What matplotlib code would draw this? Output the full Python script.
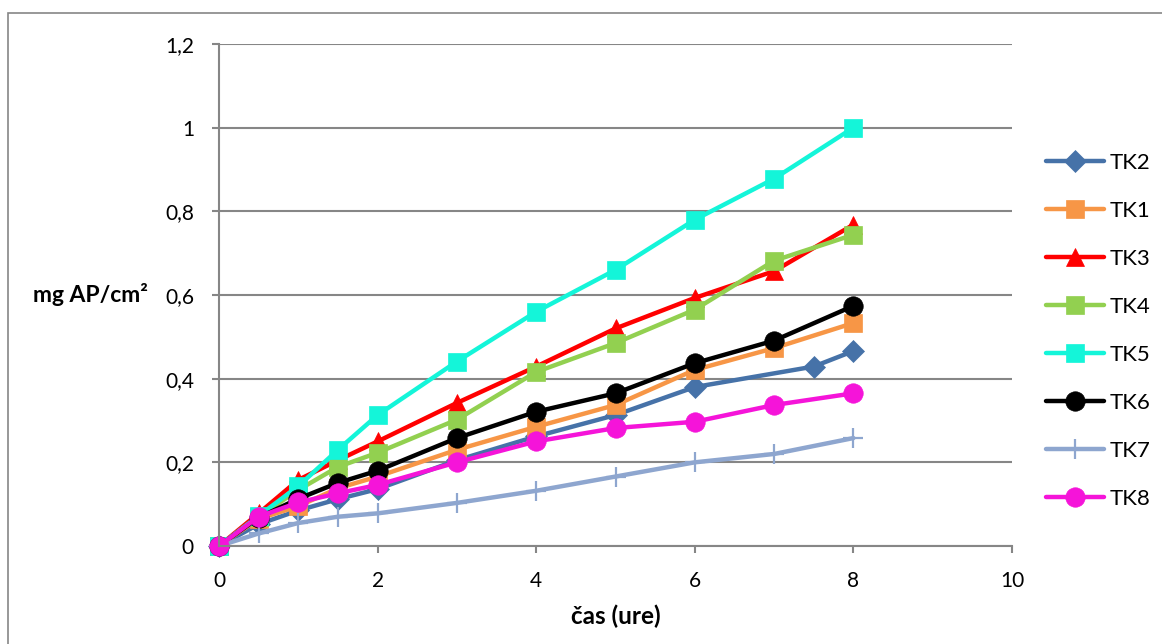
import numpy as np
import matplotlib.pyplot as plt
from matplotlib.patches import Rectangle

plt.rcParams['font.family'] = ['Lato', 'DejaVu Sans']

# podatki odčitani z grafa
t_full = [0, 0.5, 1, 1.5, 2, 3, 4, 5, 6, 7, 8]
t_tk2 = [0, 0.5, 1, 1.5, 2, 3, 4, 5, 6, 7.5, 8]

tk2 = [0, 0.052, 0.085, 0.112, 0.136, 0.205, 0.262, 0.313, 0.38, 0.429, 0.466]
tk1 = [0, 0.065, 0.095, 0.138, 0.166, 0.23, 0.285, 0.337, 0.421, 0.473, 0.533]
tk3 = [0, 0.078, 0.158, 0.205, 0.25, 0.342, 0.429, 0.52, 0.593, 0.657, 0.768]
tk4 = [0, 0.07, 0.134, 0.189, 0.223, 0.302, 0.416, 0.485, 0.565, 0.682, 0.744]
tk5 = [0, 0.072, 0.143, 0.23, 0.313, 0.441, 0.56, 0.66, 0.78, 0.878, 1.0]
tk6 = [0, 0.068, 0.113, 0.151, 0.18, 0.258, 0.321, 0.365, 0.437, 0.491, 0.574]
tk7 = [0, 0.03, 0.055, 0.07, 0.078, 0.103, 0.132, 0.166, 0.2, 0.22, 0.258]
tk8 = [0, 0.07, 0.104, 0.126, 0.146, 0.2, 0.25, 0.282, 0.297, 0.337, 0.365]

y_ticks = [0, 0.2, 0.4, 0.6, 0.8, 1.0, 1.2]
y_labels = ['0', '0,2', '0,4', '0,6', '0,8', '1', '1,2']
x_ticks = [0, 2, 4, 6, 8, 10]

series = [
    ('TK2', t_tk2, tk2, '#4672A8', 'D', 11),
    ('TK1', t_full, tk1, '#F79646', 's', 13),
    ('TK3', t_full, tk3, '#FF0000', '^', 13),
    ('TK4', t_full, tk4, '#92D050', 's', 13),
    ('TK5', t_full, tk5, '#14F5D9', 's', 13),
    ('TK6', t_full, tk6, '#000000', 'o', 14),
    ('TK7', t_full, tk7, '#8EA6CF', '+', 14),
    ('TK8', t_full, tk8, '#F514D9', 'o', 14),
]

fig = plt.figure(figsize=(11.62, 6.44), dpi=100)
ax = fig.add_axes([219/1162, 1 - 546/644, 793/1162, 502/644])

for name, xs, ys, col, mk, ms in series:
    ax.plot(xs, ys, color=col, lw=3.2, marker=mk, markersize=ms,
            markeredgewidth=1.6 if mk == '+' else 0.5,
            markeredgecolor=col, label=name, clip_on=False,
            solid_capstyle='round')

grid_col = '#868686'
ax.set_xlim(0, 10)
ax.set_ylim(0, 1.2)
ax.set_xticks(x_ticks)
ax.set_yticks(y_ticks)
ax.set_yticklabels(y_labels)
ax.yaxis.grid(True, color=grid_col, lw=1.5)
ax.set_axisbelow(True)
for s in ['top', 'right']:
    ax.spines[s].set_visible(False)
for s in ['left', 'bottom']:
    ax.spines[s].set_color(grid_col)
    ax.spines[s].set_linewidth(1.5)
ax.tick_params(axis='both', direction='out', length=5, width=1.5,
               color=grid_col, labelsize=15, pad=13)

ax.set_xlabel('čas (ure)', fontsize=17.5, fontweight='bold', va='center')
ax.xaxis.set_label_coords(0.5, -0.14)
ax.set_ylabel('mg AP/cm²', fontsize=16.5, fontweight='bold', rotation=0,
              ha='right', va='center')
ax.yaxis.set_label_coords(-0.0895, 0.5)

fig.legend(loc='center left', bbox_to_anchor=(1046/1162, 1 - 331/644),
           frameon=False, fontsize=16, handlelength=2.6, handletextpad=0.25,
           labelspacing=1.26, borderpad=0, borderaxespad=0)

fig.patches.append(Rectangle((8/1162, -0.05), 1.1, 1 - 13/644 + 0.05,
                             transform=fig.transFigure, fill=False,
                             edgecolor='#868686', lw=1.2))

fig.savefig('out.png', dpi=100)
